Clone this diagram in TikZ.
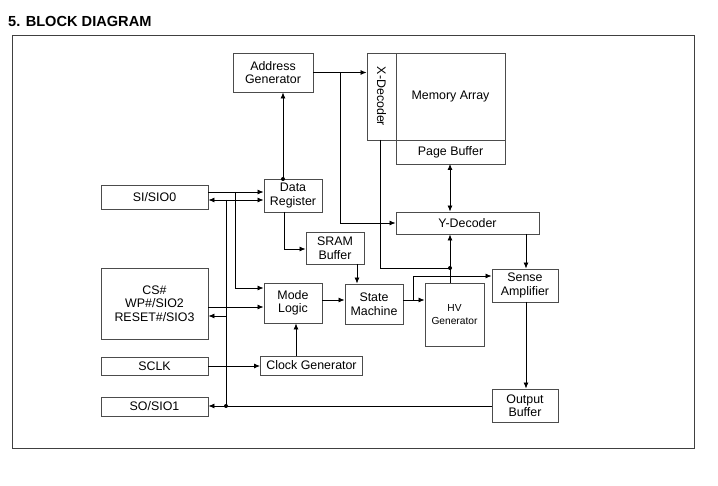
\documentclass[tikz,border=0pt]{standalone}
\usepackage{fontspec}
\setmainfont{Liberation Sans}
\usetikzlibrary{arrows.meta,calc}
\begin{document}
\begin{tikzpicture}[x=1pt,y=-1pt,
  box/.style={draw=black!70,line width=0.9pt,fill=white,inner sep=1pt,align=center,font=\fontsize{12.4}{13.5}\selectfont},
  conn/.style={line width=0.8pt,black},
  arr/.style={conn,-{Latex[length=6pt,width=5pt]}},
  arrb/.style={conn,{Latex[length=6pt,width=5pt]}-{Latex[length=6pt,width=5pt]}},
  dotc/.style={circle,fill=black,inner sep=0pt,minimum size=4pt}]
\useasboundingbox (0,0) rectangle (718,486);
\fill[white] (0,0) rectangle (718,486);
% title
\node[anchor=base west,inner sep=0pt,font=\bfseries\fontsize{14.6}{16}\selectfont] (title) at (8,26.8) {5. BLOCK DIAGRAM};
% frame
\draw[black!75,line width=1pt] (12,36) rectangle (694,448);
% boxes
\node[box,minimum width=80pt,minimum height=39pt] (addr) at (273,72.5) {Address\\Generator};
\node[box,minimum width=29pt,minimum height=87pt] (xdec) at (381.5,96.5) {};
\node[rotate=-90,font=\fontsize{12.4}{13.5}\selectfont] (xdect) at (xdec.center) {X-Decoder};
\node[box,minimum width=109pt,minimum height=87pt] (mem) at (450.5,96.5) {Memory Array};
\node[box,minimum width=109pt,minimum height=24pt] (page) at (450.5,152) {Page Buffer};
\node[box,minimum width=143pt,minimum height=22pt] (ydec) at (467.5,223) {Y-Decoder};
\node[box,minimum width=58pt,minimum height=33pt] (dreg) at (293,195.5) {Data\\Register};
\node[box,minimum width=107pt,minimum height=24pt] (si) at (154.5,197) {SI/SIO0};
\node[box,minimum width=58pt,minimum height=32pt] (sram) at (335,248) {SRAM\\Buffer};
\node[box,minimum width=58pt,minimum height=40pt] (mode) at (293,303) {Mode\\Logic};
\node[box,minimum width=58pt,minimum height=40pt] (state) at (374,304) {State\\Machine};
\node[box,minimum width=107pt,minimum height=71pt] (cs) at (154.5,303.5) {CS\#\\WP\#/SIO2\\RESET\#/SIO3};
\node[box,minimum width=107pt,minimum height=18pt] (sclk) at (154.5,366) {SCLK};
\node[box,minimum width=102pt,minimum height=19pt] (clk) at (311.5,365.5) {Clock Generator};
\node[box,minimum width=107pt,minimum height=19pt] (so) at (154.5,406.5) {SO/SIO1};
\node[box,minimum width=59pt,minimum height=63pt,font=\fontsize{10.2}{12.5}\selectfont] (hv) at (454.5,314.5) {HV\\Generator};
\node[box,minimum width=66pt,minimum height=33pt] (sense) at (525,285.5) {Sense\\Amplifier};
\node[box,minimum width=66pt,minimum height=33pt] (outb) at (525,405.5) {Output\\Buffer};
% helper coordinates
\coordinate (b1) at (340,72.5);
\coordinate (dt) at (283,179);
\coordinate (pb) at (450,164);
\coordinate (y192) at (0,192);
\coordinate (y200) at (0,200);
\coordinate (y288) at (0,288);
\coordinate (y307) at (0,307);
\coordinate (y316) at (0,316);
\coordinate (y249) at (0,249);
\coordinate (y300) at (0,300);
\coordinate (y276) at (0,276);
\coordinate (v235) at (235,192);
\coordinate (v226) at (226,200);
\coordinate (so1) at (226,406);
\coordinate (c316) at (226,316);
\coordinate (dr) at (284,212);
\coordinate (sr) at (357,264);
\coordinate (br) at (413,300);
\coordinate (hvt) at (450,283);
\coordinate (hd) at (450,268);
\coordinate (xb) at (380,140);
\coordinate (yd) at (526,234);
\coordinate (sb) at (526,302);
\coordinate (ct) at (296,356);
% connectors
\draw[arr] (addr.east) -- (addr.east -| xdec.west);
\draw[arr] (b1) |- (ydec.west);
\draw[arr] (dt) -- (dt |- addr.south);
\node[dotc] (dtd) at (dt) {};
\draw[arrb] (pb) -- (pb |- ydec.north);
\draw[arr] (si.east |- y192) -- (dreg.west |- y192);
\draw[arrb] (si.east |- y200) -- (dreg.west |- y200);
\draw[arr] (v235) |- (mode.west |- y288);
\draw[conn] (v226) -- (so1);
\draw[arr] (c316) -- (cs.east |- y316);
\draw[arr] (cs.east |- y307) -- (mode.west |- y307);
\draw[arr] (sclk.east) -- (sclk.east -| clk.west);
\draw[arr] (ct) -- (ct |- mode.south);
\draw[arr] (outb.west |- so1) -- (so.east |- so1);
\node[dotc] (sod) at (so1) {};
\draw[arr] (dr) |- (sram.west |- y249);
\draw[arr] (sr) -- (sr |- state.north);
\draw[arr] (mode.east |- y300) -- (state.west |- y300);
\draw[arr] (state.east |- y300) -- (hv.west |- y300);
\draw[arr] (br) |- (sense.west |- y276);
\draw[arr] (hvt) -- (hvt |- ydec.south);
\draw[conn] (xb) |- (hd);
\node[dotc] (hdd) at (hd) {};
\draw[arr] (yd) -- (yd |- sense.north);
\draw[arr] (sb) -- (sb |- outb.north);
\end{tikzpicture}
\end{document}
